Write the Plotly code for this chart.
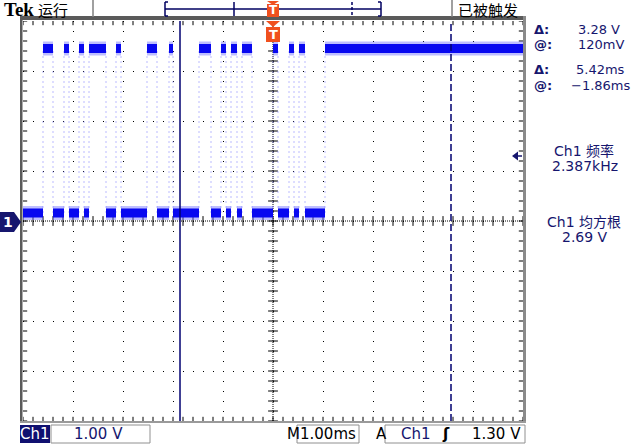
import plotly.graph_objects as go

# ---------------- data ----------------
# times (ms, relative to trigger) where the Ch1 logic signal changes level;
# first value = left edge of screen, last value = right edge of screen
edge_times_ms = [-5.0, -4.6, -4.4, -4.18, -4.08, -3.88, -3.78, -3.68, -3.34,
                 -3.14, -3.04, -2.52, -2.32, -2.08, -2.0, -1.48, -1.24, -1.04,
                 -0.94, -0.84, -0.72, -0.62, -0.42, 0.0, 0.1, 0.32, 0.42, 0.52,
                 0.64, 1.04, 5.0]
first_state = "low"
low_level_v = 0.16
high_level_v = 3.45

cursor_t1_ms = -1.86
cursor_dt_ms = 5.42
trigger_level_v = 1.30

readout_labels = ["Δ:", "@:", "Δ:", "@:"]
readout_values = ["3.28 V", "120mV", "5.42ms", "−1.86ms"]
meas_names = ["Ch1 频率", "Ch1 均方根"]
meas_values = ["2.387kHz", "2.69 V"]
ch_scale = "1.00 V"
time_scale = "1.00ms"
trig_level_text = "1.30 V"

# ---------------- geometry ----------------
W, H = 643, 444
PL, PR, PT, PB = 23, 523, 21, 421


def px(x):
    return (x - PL) / (PR - PL)


def py(y):
    return (PB - y) / (PB - PT)


NAVY = "#16166e"
SIG = "#0808f0"
SIG_LIGHT = "rgba(110,110,255,0.45)"
ORANGE = "#f0501e"

fig = go.Figure()

# ---------------- graticule centre cross and edge ticks ----------------
minor = [i * 0.2 for i in range(-25, 26)]
minor_y = [i * 0.2 for i in range(-20, 21)]
fig.add_trace(go.Scatter(x=[0, 0], y=[-4, 4], mode="lines",
                         line=dict(color="black", width=1, dash="1px,1px"),
                         hoverinfo="skip", showlegend=False))
fig.add_trace(go.Scatter(x=[-5, 5], y=[0, 0], mode="lines",
                         line=dict(color="black", width=1, dash="1px,1px"),
                         hoverinfo="skip", showlegend=False))
fig.add_trace(go.Scatter(x=[0] * len(minor_y), y=minor_y, mode="markers",
                         marker=dict(symbol="line-ew", size=7,
                                     line=dict(color="black", width=1)),
                         hoverinfo="skip", showlegend=False))
fig.add_trace(go.Scatter(x=minor, y=[0] * len(minor), mode="markers",
                         marker=dict(symbol="line-ns", size=7,
                                     line=dict(color="black", width=1)),
                         hoverinfo="skip", showlegend=False))
# edge ticks
fig.add_trace(go.Scatter(x=minor + minor, y=[4] * len(minor) + [-4] * len(minor),
                         mode="markers",
                         marker=dict(symbol="line-ns", size=6,
                                     line=dict(color="black", width=1)),
                         hoverinfo="skip", showlegend=False))
fig.add_trace(go.Scatter(x=[-5] * len(minor_y) + [5] * len(minor_y), y=minor_y + minor_y,
                         mode="markers",
                         marker=dict(symbol="line-ew", size=6,
                                     line=dict(color="black", width=1)),
                         hoverinfo="skip", showlegend=False))

# ---------------- signal ----------------
hx, hy, lx, ly, ex, ey = [], [], [], [], [], []
state = first_state
for i in range(len(edge_times_ms) - 1):
    t0, t1 = edge_times_ms[i], edge_times_ms[i + 1]
    lv = high_level_v if state == "high" else low_level_v
    if state == "high":
        hx += [t0, t1, None]
        hy += [lv, lv, None]
    else:
        lx += [t0, t1, None]
        ly += [lv, lv, None]
    if i > 0:
        ex += [t0, t0, None]
        ey += [low_level_v, high_level_v, None]
    state = "low" if state == "high" else "high"

fig.add_trace(go.Scatter(x=ex, y=ey, mode="lines",
                         line=dict(color="rgba(120,120,255,0.5)", width=1, dash="2px,3px"),
                         hoverinfo="skip", showlegend=False))
for xs, ys in ((lx, ly), (hx, hy)):
    fig.add_trace(go.Scatter(x=xs, y=ys, mode="lines",
                             line=dict(color=SIG_LIGHT, width=14),
                             hoverinfo="skip", showlegend=False))
    fig.add_trace(go.Scatter(x=xs, y=ys, mode="lines",
                             line=dict(color=SIG, width=9),
                             hoverinfo="skip", showlegend=False))

# ---------------- cursors ----------------
c1 = cursor_t1_ms
c2 = cursor_t1_ms + cursor_dt_ms
fig.add_trace(go.Scatter(x=[c1, c1], y=[-4, 4], mode="lines",
                         line=dict(color="#000070", width=1.5),
                         hoverinfo="skip", showlegend=False))
fig.add_trace(go.Scatter(x=[c2, c2], y=[-4, 4], mode="lines",
                         line=dict(color="#000070", width=1.5, dash="7px,3px"),
                         hoverinfo="skip", showlegend=False))

# trigger-level arrow on the right
fig.add_trace(go.Scatter(x=[4.86], y=[trigger_level_v], mode="markers",
                         marker=dict(symbol="triangle-left", size=8, color=NAVY),
                         hoverinfo="skip", showlegend=False, cliponaxis=False))

shapes = []
ann = []


def rect(x0, y0, x1, y1, fill=None, line=None, lw=1):
    shapes.append(dict(type="rect", xref="paper", yref="paper",
                       x0=px(x0), x1=px(x1), y0=py(y0), y1=py(y1),
                       fillcolor=fill or "rgba(0,0,0,0)",
                       line=dict(color=line or "rgba(0,0,0,0)", width=lw if line else 0),
                       layer="above"))


def seg(x0, y0, x1, y1, color, w=1, dash=None):
    d = dict(type="line", xref="paper", yref="paper",
             x0=px(x0), x1=px(x1), y0=py(y0), y1=py(y1),
             line=dict(color=color, width=w), layer="above")
    if dash:
        d["line"]["dash"] = dash
    shapes.append(d)


def path(pts, fill):
    p = "M " + " L ".join(f"{px(a)},{py(b)}" for a, b in pts) + " Z"
    shapes.append(dict(type="path", xref="paper", yref="paper", path=p,
                       fillcolor=fill, line=dict(width=0), layer="above"))


def text(x, y, s, size=15, color=NAVY, anchor="left", family="DejaVu Sans", bold=False):
    if bold:
        s = "<b>" + s + "</b>"
    ann.append(dict(xref="paper", yref="paper", x=px(x), y=py(y), text=s,
                    showarrow=False, xanchor=anchor, yanchor="middle",
                    font=dict(size=size, color=color, family=family)))


# frame
rect(20, 16, 525, 20, fill="#5a5a5a")
rect(20, 16, 22.5, 422, fill="#5a5a5a")
rect(523, 16, 526, 423, fill="#8a8a8a")
rect(20, 421, 526, 423, fill="#9a9a9a")

# trigger-level arrow tail
seg(516, 156, 522, 156, NAVY, 1.5)

# top bar
seg(93, 0, 93, 17, "#808080", 1.5)
seg(452, 0, 452, 17, "#808080", 1.5)
text(2, 10, "Tek", size=19, color="black", family="Liberation Serif", bold=True)
text(36, 10, "运行", size=15, color="black", family="Noto Sans CJK SC")
text(456, 10, "已被触发", size=15, color="black", family="Noto Sans CJK SC")
# record-view bar
seg(165, 9, 381, 9, "#000060", 1.5)
seg(165, 2, 165, 16, "#000060", 1.5)
seg(165, 2, 168, 2, "#000060", 1.5)
seg(165, 16, 168, 16, "#000060", 1.5)
seg(381, 2, 381, 16, "#000060", 1.5)
seg(378, 2, 381, 2, "#000060", 1.5)
seg(378, 16, 381, 16, "#000060", 1.5)
seg(234, 2, 234, 16, "#000060", 1.5)
seg(352, 2, 352, 16, "#000060", 1.5, dash="3px,2px")
# trigger position markers
path([(267, 1), (279, 1), (273, 5)], ORANGE)
rect(267, 4, 279, 17, fill=ORANGE)
text(273, 10.5, "T", size=12, color="white", anchor="center", family="DejaVu Sans", bold=True)
path([(266, 21), (280, 21), (273, 27)], ORANGE)
rect(266, 27, 280, 42, fill=ORANGE)
text(273, 34.5, "T", size=13, color="white", anchor="center", family="DejaVu Sans", bold=True)

# ground marker
path([(0, 212), (14, 212), (21, 222), (14, 232), (0, 232)], NAVY)
text(8, 222, "1", size=14, color="white", anchor="center", bold=True)

# cursor readouts
ys_read = [29, 44, 69, 85]
xr_val = [622, 626, 627, 633]
for lab, val, yy, xx in zip(readout_labels, readout_values, ys_read, xr_val):
    text(532, yy, lab, size=13, bold=True)
    text(xx, yy, val, size=13, anchor="right")

# measurements
text(584, 151, meas_names[0], size=14, anchor="center", family="DejaVu Sans, Noto Sans CJK SC")
text(585, 166, meas_values[0], size=14, anchor="center")
text(584, 222, meas_names[1], size=14, anchor="center", family="DejaVu Sans, Noto Sans CJK SC")
text(585, 237, meas_values[1], size=14, anchor="center")

# bottom status bar
rect(20, 425, 50, 443, fill="#101070")
text(35, 434, "Ch1", size=15, color="white", anchor="center")
rect(51, 425, 150, 443, line="#909090", lw=1)
text(72, 434, ch_scale, size=15)
text(285, 434, "M", size=15, color="black")
rect(297, 425, 359, 443, line="#909090", lw=1)
text(328, 434, time_scale, size=15, color="black", anchor="center")
text(374, 434, "A", size=15, color="black")
rect(385, 425, 525, 443, line="#909090", lw=1)
text(399, 434, "Ch1", size=15)
text(440, 434, "ʃ", size=15, color="black", bold=True)
text(523, 434, trig_level_text, size=15, color="black", anchor="right")

fig.update_layout(
    width=W, height=H,
    margin=dict(l=PL, r=W - PR, t=PT, b=H - PB, pad=0),
    paper_bgcolor="white", plot_bgcolor="white",
    shapes=shapes, annotations=ann,
    xaxis=dict(range=[-5, 5], dtick=1, tick0=0, showgrid=True, gridcolor="black",
               gridwidth=1, griddash="1px,9px", zeroline=False, showticklabels=False,
               ticks="", showline=False, fixedrange=True),
    yaxis=dict(range=[-4, 4], dtick=1, tick0=0, showgrid=True, gridcolor="black",
               gridwidth=1, griddash="1px,9px", zeroline=False, showticklabels=False,
               ticks="", showline=False, fixedrange=True),
)

fig.write_html("out.html", config={"displayModeBar": False},
               post_script="document.body.style.margin='0';document.body.style.overflow='hidden';")
